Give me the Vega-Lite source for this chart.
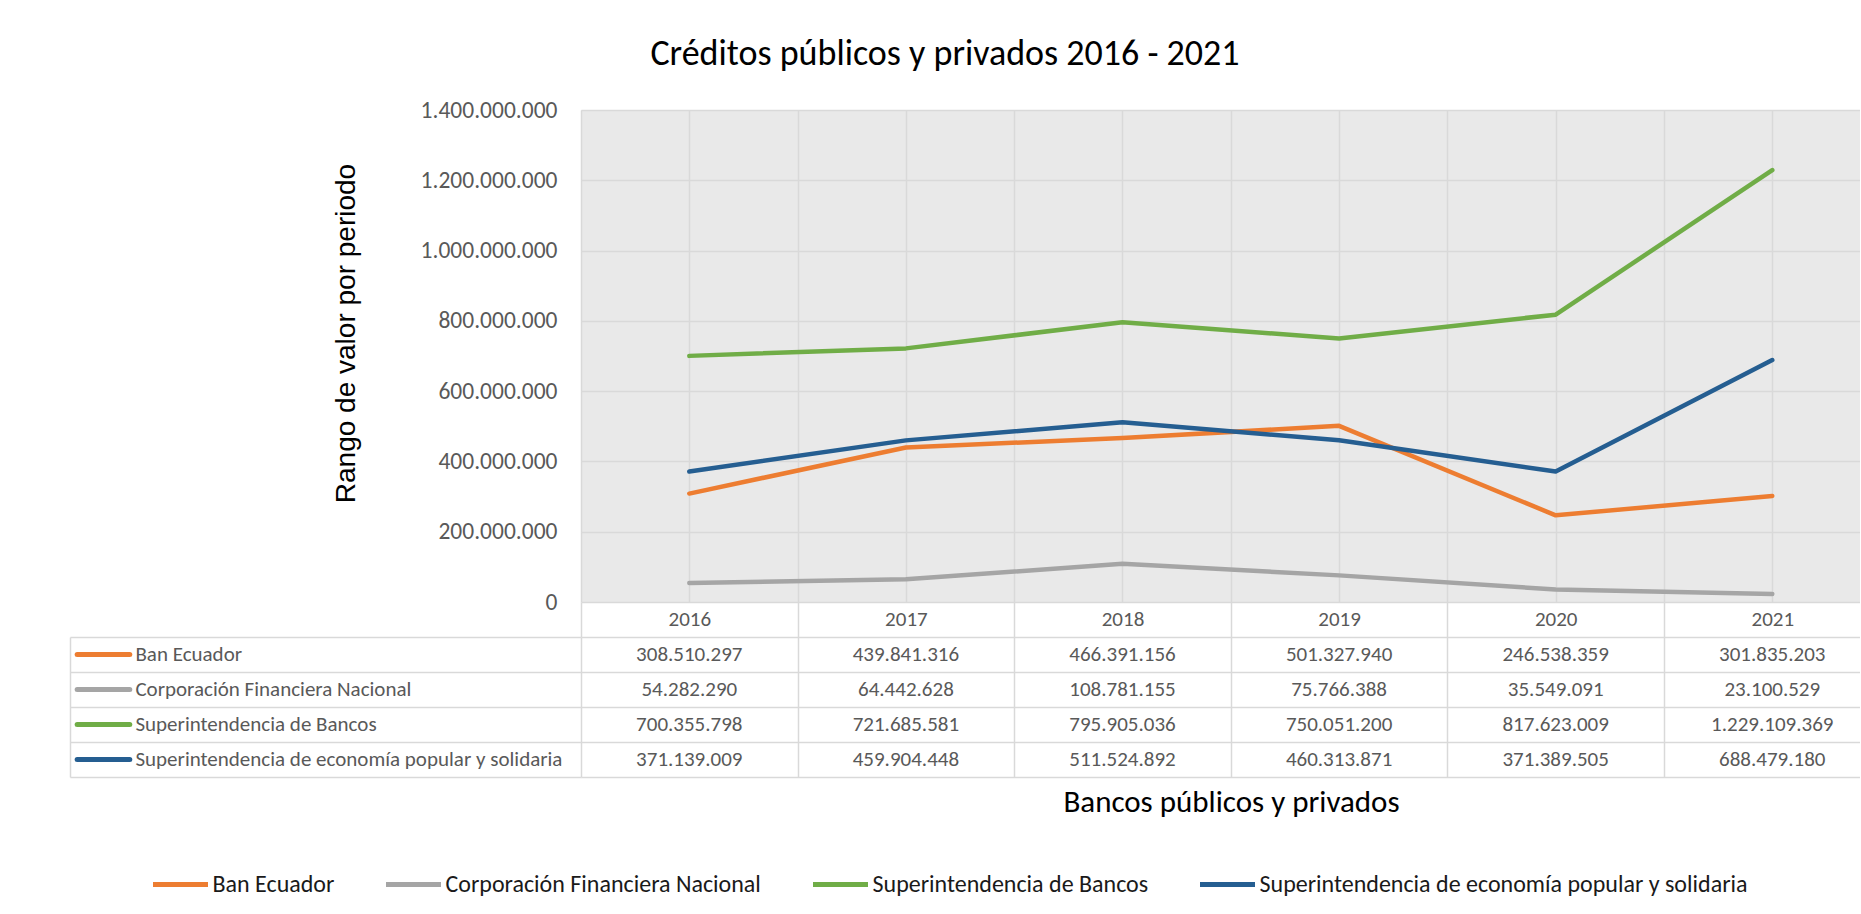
{
  "$schema": "https://vega.github.io/schema/vega-lite/v6.json",
  "padding": {"left": 70, "top": 36, "right": 0, "bottom": 5},
  "background": "white",
  "title": {"text": "Créditos públicos y privados 2016 - 2021", "fontSize": 36, "fontWeight": "normal", "color": "#000000", "font": "Carlito, Lato, sans-serif", "anchor": "middle", "dx": -20, "offset": 25},
  "datasets": {
    "creditos": [
      {"serie": "Ban Ecuador", "year": 2016, "value": 308510297},
      {"serie": "Ban Ecuador", "year": 2017, "value": 439841316},
      {"serie": "Ban Ecuador", "year": 2018, "value": 466391156},
      {"serie": "Ban Ecuador", "year": 2019, "value": 501327940},
      {"serie": "Ban Ecuador", "year": 2020, "value": 246538359},
      {"serie": "Ban Ecuador", "year": 2021, "value": 301835203},
      {"serie": "Corporación Financiera Nacional", "year": 2016, "value": 54282290},
      {"serie": "Corporación Financiera Nacional", "year": 2017, "value": 64442628},
      {"serie": "Corporación Financiera Nacional", "year": 2018, "value": 108781155},
      {"serie": "Corporación Financiera Nacional", "year": 2019, "value": 75766388},
      {"serie": "Corporación Financiera Nacional", "year": 2020, "value": 35549091},
      {"serie": "Corporación Financiera Nacional", "year": 2021, "value": 23100529},
      {"serie": "Superintendencia de Bancos", "year": 2016, "value": 700355798},
      {"serie": "Superintendencia de Bancos", "year": 2017, "value": 721685581},
      {"serie": "Superintendencia de Bancos", "year": 2018, "value": 795905036},
      {"serie": "Superintendencia de Bancos", "year": 2019, "value": 750051200},
      {"serie": "Superintendencia de Bancos", "year": 2020, "value": 817623009},
      {"serie": "Superintendencia de Bancos", "year": 2021, "value": 1229109369},
      {"serie": "Superintendencia de economía popular y solidaria", "year": 2016, "value": 371139009},
      {"serie": "Superintendencia de economía popular y solidaria", "year": 2017, "value": 459904448},
      {"serie": "Superintendencia de economía popular y solidaria", "year": 2018, "value": 511524892},
      {"serie": "Superintendencia de economía popular y solidaria", "year": 2019, "value": 460313871},
      {"serie": "Superintendencia de economía popular y solidaria", "year": 2020, "value": 371389505},
      {"serie": "Superintendencia de economía popular y solidaria", "year": 2021, "value": 688479180}
    ]
  },
  "columns": 2,
  "spacing": {"row": 35, "column": 0},
  "bounds": "flush",
  "resolve": {"scale": {"color": "independent"}, "legend": {"color": "independent"}},
  "concat": [
    {
      "width": 511,
      "height": 492,
      "data": {"values": [{"k": 0}]},
      "mark": {"type": "text", "text": " "},
      "encoding": {}
    },
    {
      "width": 1279,
      "height": 492,
      "view": {"fill": "#e9e9e9", "stroke": null},
      "data": {"name": "creditos"},
      "mark": {"type": "line", "strokeWidth": 4.5, "strokeCap": "round", "strokeJoin": "round"},
      "encoding": {
        "x": {
          "field": "year", "type": "quantitative",
          "scale": {"domain": [2015.5, 2021.405], "nice": false, "zero": false},
          "axis": {
            "values": [2015.5, 2016, 2016.5, 2017, 2017.5, 2018, 2018.5, 2019, 2019.5, 2020, 2020.5, 2021],
            "title": null, "grid": true, "gridColor": "#d9d9d9", "gridWidth": 1.5, "domain": false,
            "ticks": true, "tickSize": 35, "tickWidth": 1.5,
            "tickColor": {"condition": {"test": "datum.value % 1 === 0", "value": "transparent"}, "value": "#d9d9d9"},
            "labelExpr": "datum.value % 1 === 0 ? '' + datum.value : ''",
            "labelPadding": -17.5, "labelBaseline": "middle", "labelFontSize": 21, "labelColor": "#595959",
            "labelFlush": false, "labelOverlap": false, "labelBound": false
          }
        },
        "y": {
          "field": "value", "type": "quantitative",
          "scale": {"domain": [0, 1400000000], "nice": false},
          "axis": {
            "values": [0, 200000000, 400000000, 600000000, 800000000, 1000000000, 1200000000, 1400000000],
            "format": ",d", "grid": true, "gridColor": "#d9d9d9", "gridWidth": 1.5, "domain": false, "ticks": false,
            "labelPadding": 24, "labelFontSize": 23.5, "labelColor": "#595959",
            "title": "Rango de valor por periodo", "titleFont": "Liberation Sans", "titleFontSize": 28,
            "titleFontWeight": "normal", "titleColor": "#000000", "titleX": -226.7, "titleY": 223,
            "titleBaseline": "alphabetic", "titleAngle": 270, "titleAlign": "center"
          }
        },
        "color": {
          "field": "serie", "type": "nominal",
          "scale": {
            "domain": ["Ban Ecuador", "Corporación Financiera Nacional", "Superintendencia de Bancos", "Superintendencia de economía popular y solidaria"],
            "range": ["#ED7D31", "#A5A5A5", "#70AD47", "#255E91"]
          },
          "legend": {
            "orient": "none", "direction": "horizontal", "legendX": -430.5, "legendY": 744.5, "title": null,
            "symbolType": "stroke", "symbolSize": 3025, "symbolStrokeWidth": 5, "labelFontSize": 24,
            "labelColor": "#1a1a1a", "labelOffset": 2, "columnPadding": 41, "labelLimit": 1000, "padding": 0
          }
        }
      }
    },
    {
      "width": 511,
      "height": 140,
      "data": {"name": "creditos"},
      "transform": [{"filter": "datum.year === 2016"}],
      "encoding": {
        "y": {
          "field": "serie", "type": "nominal", "bandPosition": 0.5,
          "scale": {
            "type": "band", "paddingInner": 0, "paddingOuter": 0,
            "domain": ["Ban Ecuador", "Corporación Financiera Nacional", "Superintendencia de Bancos", "Superintendencia de economía popular y solidaria"]
          },
          "axis": {"grid": true, "bandPosition": 0, "gridColor": "#d9d9d9", "gridWidth": 1.5, "labels": false, "ticks": false, "domain": true, "domainColor": "#d9d9d9", "domainWidth": 1.5, "title": null}
        }
      },
      "layer": [
        {
          "mark": {"type": "rule", "strokeWidth": 5, "strokeCap": "round"},
          "encoding": {
            "x": {"datum": 1.4, "type": "quantitative", "scale": {"domain": [0, 100], "nice": false, "zero": false},
                  "axis": {"labels": false, "ticks": false, "grid": false, "domain": true, "domainColor": "#d9d9d9", "domainWidth": 1.5, "title": null}},
            "x2": {"datum": 11.7},
            "color": {
              "field": "serie", "type": "nominal",
              "scale": {
                "domain": ["Ban Ecuador", "Corporación Financiera Nacional", "Superintendencia de Bancos", "Superintendencia de economía popular y solidaria"],
                "range": ["#ED7D31", "#A5A5A5", "#70AD47", "#255E91"]
              },
              "legend": null
            }
          }
        },
        {
          "mark": {"type": "text", "align": "left", "baseline": "middle", "fontSize": 21, "color": "#595959"},
          "encoding": {
            "x": {"datum": 12.8, "type": "quantitative"},
            "text": {"field": "serie", "type": "nominal"}
          }
        }
      ]
    },
    {
      "width": 1279,
      "height": 140,
      "data": {"name": "creditos"},
      "mark": {"type": "text", "fontSize": 21, "color": "#595959", "baseline": "middle"},
      "encoding": {
        "x": {
          "field": "year", "type": "quantitative",
          "scale": {"domain": [2015.5, 2021.405], "nice": false, "zero": false},
          "axis": {
            "values": [2015.5, 2016.5, 2017.5, 2018.5, 2019.5, 2020.5],
            "grid": true, "gridColor": "#d9d9d9", "gridWidth": 1.5, "labels": false, "ticks": false,
            "domain": true, "domainColor": "#d9d9d9", "domainWidth": 1.5,
            "title": "Bancos públicos y privados", "titleFontSize": 31, "titleFontWeight": "normal", "titleColor": "#000000",
            "titleX": 650, "titleY": 34, "titleBaseline": "alphabetic", "titleAlign": "center"
          }
        },
        "y": {
          "field": "serie", "type": "nominal", "bandPosition": 0.5,
          "scale": {
            "type": "band", "paddingInner": 0, "paddingOuter": 0,
            "domain": ["Ban Ecuador", "Corporación Financiera Nacional", "Superintendencia de Bancos", "Superintendencia de economía popular y solidaria"]
          },
          "axis": {"grid": true, "bandPosition": 0, "gridColor": "#d9d9d9", "gridWidth": 1.5, "labels": false, "ticks": false, "domain": false, "title": null}
        },
        "text": {"field": "value", "type": "quantitative", "format": ",d"}
      }
    }
  ],
  "config": {
    "font": "Carlito, Lato, sans-serif",
    "view": {"stroke": null},
    "locale": {"number": {"decimal": ",", "thousands": ".", "grouping": [3], "currency": ["$", ""]}}
  }
}
